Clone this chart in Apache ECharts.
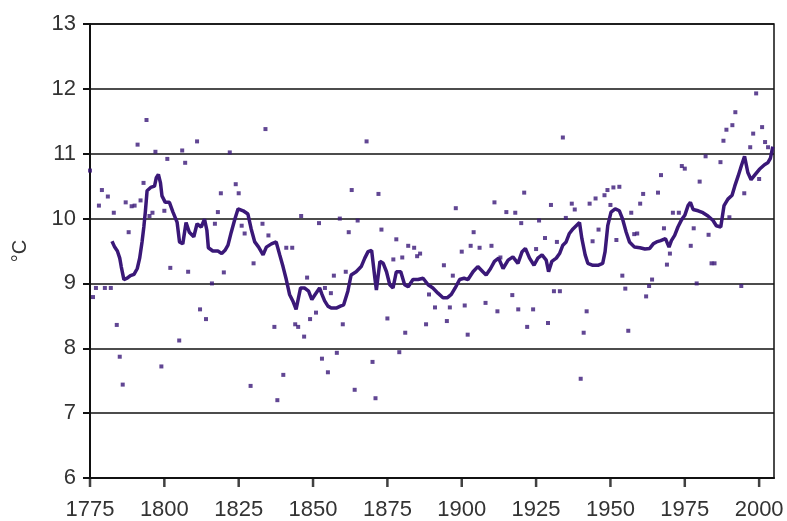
<!DOCTYPE html>
<html>
<head>
<meta charset="utf-8">
<script src="https://cdn.jsdelivr.net/npm/echarts@6/dist/echarts.min.js"></script>
<style>html,body{margin:0;padding:0;background:#fff;}#c{width:787px;height:521px;}</style>
</head>
<body>
<div id="c"></div>
<script>
// Annual values (year, °C)
const annualYears = [1775,1776,1777,1778,1779,1780,1781,1782,1783,1784,1785,1786,1787,1788,1789,1790,1791,1792,1793,1794,1795,1796,1797,1799,1800,1801,1802,1805,1806,1807,1808,1811,1812,1814,1816,1817,1818,1819,1820,
1822,1824,1825,1826,1827,1829,1830,1833,1834,1835,1837,1838,1840,1841,1843,1844,1845,1846,1847,1848,1849,1851,1852,1853,1854,1855,1856,1857,1858,1859,1860,1861,1862,1863,1864,1865,
1868,1870,1871,1872,1873,1875,1877,1878,1879,1880,1881,1882,1884,1885,1886,1888,1889,1891,1894,1895,1896,1897,1898,1900,1901,1902,1903,1904,1906,1908,1910,1911,1912,
1913,1915,1917,1918,1919,1920,1921,1922,1924,1925,1926,1928,1929,1930,1931,1932,1933,1934,1935,1937,1938,1940,1941,1942,1943,1944,1945,1946,1948,1949,1950,1951,1952,1953,1954,1955,1956,1957,1958,
1959,1960,1961,1962,1963,1964,1966,1967,1968,1969,1970,1971,1973,1974,1975,1977,1978,1979,1980,1982,1983,1984,1985,1987,1988,1989,1990,1991,1992,1994,1995,1997,1998,1999,2000,2001,2002,2003,2004];
const annualTemps = [10.74,8.79,8.93,10.20,10.44,8.93,10.34,8.93,10.09,8.36,7.87,7.44,10.25,9.79,10.19,10.20,11.14,10.28,10.55,11.52,10.04,10.09,11.03,7.72,10.12,10.92,9.24,8.12,11.05,10.86,9.18,11.19,8.60,8.45,9.00,9.92,10.10,10.39,9.17,
11.02,10.53,10.39,9.89,9.77,7.42,9.31,9.92,11.38,9.74,8.33,7.20,7.59,9.55,9.55,8.37,8.33,10.04,8.18,9.09,8.45,8.55,9.93,7.84,8.93,7.63,8.85,9.12,7.93,10.00,8.37,9.18,9.79,10.44,7.36,9.97,
11.19,7.79,7.23,10.38,9.83,8.46,9.37,9.68,7.94,9.40,8.24,9.58,9.55,9.42,9.46,8.37,8.83,8.63,9.28,8.42,8.63,9.12,10.16,9.49,8.66,8.21,9.58,9.79,9.55,8.70,9.58,10.25,8.57,
9.40,10.10,8.82,10.09,8.60,9.93,10.40,8.33,8.60,9.53,9.97,9.70,8.39,10.21,8.88,9.64,8.88,11.25,10.01,10.23,10.14,7.53,8.24,8.57,10.23,9.65,10.31,9.83,10.36,10.44,10.21,10.48,9.67,10.49,9.12,8.92,8.27,10.09,9.76,
9.77,10.23,10.38,8.80,8.96,9.06,10.40,10.67,9.85,9.29,9.46,10.09,10.09,10.81,10.77,9.58,9.85,9.00,10.57,10.96,9.75,9.31,9.31,10.87,11.20,11.37,10.02,11.44,11.64,8.96,10.39,11.10,11.31,11.93,10.61,11.41,11.18,11.10];

// Smoothed curve
const smoothYears = [1782.4,1783.3,1784.2,1785,1785.5,1786.4,1787.5,1788.6,1789.8,1790.9,1791.7,1792.5,1793.1,1793.6,1794.2,1795.4,1796.7,1797.3,1798,1798.7,1799.2,1800.3,1801.7,1802.9,1804.3,1805.1,1806.2,1807.3,1808.4,1809.9,1811,1812.4,1813.5,1814.3,1814.8,1816.3,1818,1819.3,1820.4,
1821.4,1822.5,1823.7,1824.8,1826.5,1828.1,1829.2,1830.4,1831.7,1833.2,1834.3,1836,1837.6,1838.8,1839.9,1841,1842.1,1843.2,1844.3,1845.8,1847.1,1848.5,1849.6,1850.7,1852.2,1853,1853.9,1855,1856.1,1857.8,1859.2,1860.3,1861.7,1862.8,1864.5,1866.2,
1867.4,1868.5,1869.7,1870.8,1871.3,1872.5,1873.6,1874.7,1875.8,1876.9,1878,1879.5,1880.8,1882,1883.6,1885.3,1887,1888.7,1890.3,1892,1893.7,1895.2,1896.5,1897.8,1899.3,1900.8,1902.1,1903.8,1905.4,1907.1,1908.2,1909.7,1911,1912.4,
1913.9,1915.6,1917.2,1918.9,1920.3,1921.4,1922.8,1924.3,1925.6,1927,1928.4,1929.2,1930.3,1931.8,1932.9,1934,1935.1,1936.2,1937.4,1938.5,1939.6,1940.4,1941.5,1942.4,1944.1,1945.8,1947.4,1948.2,1949.1,1950.2,1951.6,1953,1954.1,1955.3,1956.4,1958.1,
1959.9,1961.6,1963.2,1964.4,1965.5,1966.9,1968.5,1969.7,1970.5,1971.6,1972.7,1973.9,1975,1976.1,1976.9,1977.8,1979.5,1981.1,1982.8,1984.5,1985.6,1987.1,1988.2,1989.5,1990.9,1991.8,1992.9,1994,1995.1,1996.2,1997.3,1998.7,2000.1,2001.8,2002.9,2003.8,2004.6];
const smoothTemps = [9.65,9.56,9.50,9.39,9.26,9.06,9.08,9.12,9.14,9.23,9.39,9.64,9.87,10.10,10.43,10.48,10.50,10.63,10.68,10.55,10.35,10.25,10.25,10.10,9.94,9.64,9.61,9.94,9.79,9.72,9.92,9.87,9.99,9.82,9.55,9.50,9.50,9.46,9.51,
9.59,9.79,9.99,10.15,10.12,10.07,9.84,9.64,9.56,9.44,9.56,9.61,9.64,9.44,9.26,9.06,8.83,8.73,8.60,8.93,8.93,8.88,8.75,8.83,8.93,8.83,8.73,8.65,8.62,8.62,8.65,8.67,8.88,9.13,9.18,9.26,
9.39,9.49,9.51,9.08,8.90,9.34,9.31,9.18,8.98,8.93,9.18,9.18,8.98,8.95,9.06,9.06,9.08,8.98,8.93,8.85,8.78,8.78,8.83,8.93,9.06,9.08,9.06,9.18,9.26,9.18,9.13,9.23,9.34,9.39,
9.23,9.36,9.41,9.31,9.49,9.54,9.39,9.28,9.39,9.44,9.36,9.18,9.34,9.39,9.46,9.59,9.64,9.77,9.84,9.89,9.94,9.69,9.44,9.31,9.28,9.28,9.31,9.49,9.89,10.10,10.15,10.12,9.99,9.79,9.64,9.56,
9.55,9.53,9.54,9.61,9.64,9.66,9.69,9.56,9.66,9.74,9.87,9.98,10.05,10.20,10.25,10.14,10.12,10.09,10.04,9.97,9.89,9.87,10.20,10.30,10.36,10.50,10.65,10.81,10.96,10.71,10.60,10.68,10.76,10.83,10.86,10.93,11.11];

const xTickLabels = [1775,1800,1825,1850,1875,1900,1925,1950,1975,2000];
const yTickLabels = [6,7,8,9,10,11,12,13];

const purple = '#3a1878';
const fontFam = '"Liberation Sans", Arial, sans-serif';

const chart = echarts.init(document.getElementById('c'), null, {renderer:'canvas'});
chart.setOption({
  animation:false,
  backgroundColor:'#fff',
  grid:{left:90, right:13, top:24, bottom:38, show:true, borderColor:'#111', borderWidth:1.5, backgroundColor:'transparent', containLabel:false},
  xAxis:{
    type:'value', min:1775, max:2005, interval:25, position:'bottom',
    axisLine:{show:true, onZero:false, lineStyle:{color:'#111', width:2}},
    axisTick:{show:false},
    axisLabel:{show:true, showMaxLabel:false, margin:21, fontSize:22, color:'#333', fontFamily:fontFam,
      formatter:function(v){return xTickLabels.indexOf(v)>=0 ? String(v) : '';}},
    splitLine:{show:false}
  },
  yAxis:{
    type:'value', min:6, max:13, interval:1,
    name:'°C', nameLocation:'middle', nameGap:60, nameRotate:90,
    nameTextStyle:{fontSize:20, color:'#333', fontFamily:fontFam},
    axisLine:{show:true, lineStyle:{color:'#111', width:2}},
    axisTick:{show:true, inside:false, length:7, lineStyle:{color:'#111', width:2}},
    axisLabel:{margin:14, fontSize:22, color:'#333', fontFamily:fontFam,
      formatter:function(v){return yTickLabels.indexOf(v)>=0 ? String(v) : '';}},
    splitLine:{show:true, lineStyle:{color:'#111', width:1.5}}
  },
  series:[
    {type:'scatter', symbol:'rect', symbolSize:4, itemStyle:{color:purple},
     data: annualYears.map((y,i)=>[y, annualTemps[i]]), z:3},
    {type:'line', showSymbol:false, symbol:'none', smooth:false,
     lineStyle:{color:purple, width:3.5}, data: smoothYears.map((y,i)=>[y, smoothTemps[i]]), z:4},
    // x-axis tick marks hanging below the axis
    {type:'scatter', silent:true, clip:false, symbol:'rect', symbolSize:[2.5,9], symbolOffset:[0,4.5],
     itemStyle:{color:'#111'}, data: xTickLabels.map(v=>[v, 6]), z:5}
  ]
});
</script>
</body>
</html>
